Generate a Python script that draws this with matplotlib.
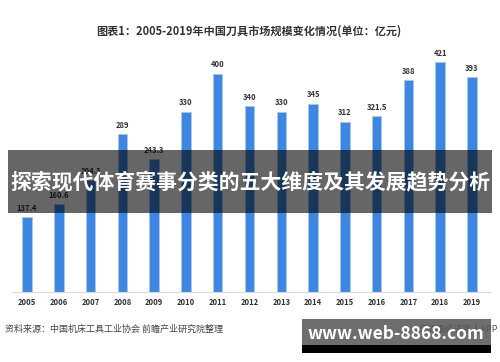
import matplotlib
matplotlib.use('Agg')
import matplotlib.pyplot as plt
from matplotlib.patches import Rectangle

plt.rcParams['font.family'] = ['Noto Sans CJK SC', 'DejaVu Sans']

years = ['2005', '2006', '2007', '2008', '2009', '2010', '2011', '2012',
         '2013', '2014', '2015', '2016', '2017', '2018', '2019']
values = [137.4, 160.6, 204.3, 289, 243.3, 330, 400, 340,
          330, 345, 312, 321.5, 388, 421, 393]
labels = ['137.4', '160.6', '204.3', '289', '243.3', '330', '400', '340',
          '330', '345', '312', '321.5', '388', '421', '393']

title = '图表1：2005-2019年中国刀具市场规模变化情况(单位：亿元)'
source = '资料来源：中国机床工具工业协会 前瞻产业研究院整理'
banner = '探索现代体育赛事分类的五大维度及其发展趋势分析'
site = 'www.web-8868.com'

W, H = 500, 362
fig = plt.figure(figsize=(W / 100, H / 100), dpi=100)
fig.patch.set_facecolor('white')

# axes placed in pixel terms: baseline at y=292, top at y=40
left_px, right_px = 12, 490
base_px, top_px = 292, 40
ax = fig.add_axes([left_px / W, (H - base_px) / H,
                   (right_px - left_px) / W, (base_px - top_px) / H])
step = (472 - 27) / 14
ax.set_xlim(-(27 - left_px) / step, 14 + (right_px - 472) / step)
scale = 0.546
ax.set_ylim(0, (base_px - top_px) / scale)

x = list(range(len(years)))
ax.bar(x, values, width=0.3, color='#3d86e2', edgecolor='#a8c7f0', linewidth=0.6, zorder=2)
for xi, v, lab in zip(x, values, labels):
    ax.text(xi, v + 8, lab, ha='center', va='bottom', fontsize=5.5,
            color='#333333', fontweight='bold')

for s in ['top', 'right', 'left']:
    ax.spines[s].set_visible(False)
ax.spines['bottom'].set_color('#d9d9d9')
ax.spines['bottom'].set_linewidth(0.8)
ax.set_yticks([])
ax.set_xticks(x)
ax.set_xticklabels(years, fontsize=5.5, fontweight='bold', color='#333333')
ax.tick_params(axis='x', length=0, pad=4)

fig.text(249 / W, 1 - 31 / H, title, ha='center', va='center', fontsize=8,
         fontweight='bold', color='#333333')
fig.text(5 / W, 1 - 329 / H, source, ha='left', va='center', fontsize=6.5,
         color='#444444')
fig.text(498 / W, 1 - 329 / H, '@前瞻经济学人APP', ha='right', va='center',
         fontsize=6.5, color='#555555')

# overlay banner across the middle
fig.patches.append(Rectangle((8 / W, 1 - 213 / H), (492 - 8) / W, 63 / H,
                             transform=fig.transFigure, facecolor='black',
                             alpha=0.6, edgecolor='none', zorder=5))
fig.text(250 / W, 1 - 183 / H, banner, ha='center', va='center', fontsize=15,
         fontweight='bold', color='white', zorder=6)

# site badge at bottom right
fig.patches.append(Rectangle((302 / W, 1 - 345 / H), (491 - 302) / W, 26 / H,
                             transform=fig.transFigure, facecolor='#555555',
                             alpha=0.85, edgecolor='none', zorder=5))
fig.patches.append(Rectangle((302 / W, 1 - 353 / H), (491 - 302) / W, 8 / H,
                             transform=fig.transFigure, facecolor='black',
                             edgecolor='none', zorder=5))
fig.text(396 / W, 1 - 334 / H, site, ha='center', va='center', fontsize=12.5,
         fontweight='bold', color='white', zorder=6)

fig.savefig('out.png', dpi=100, facecolor='white')
